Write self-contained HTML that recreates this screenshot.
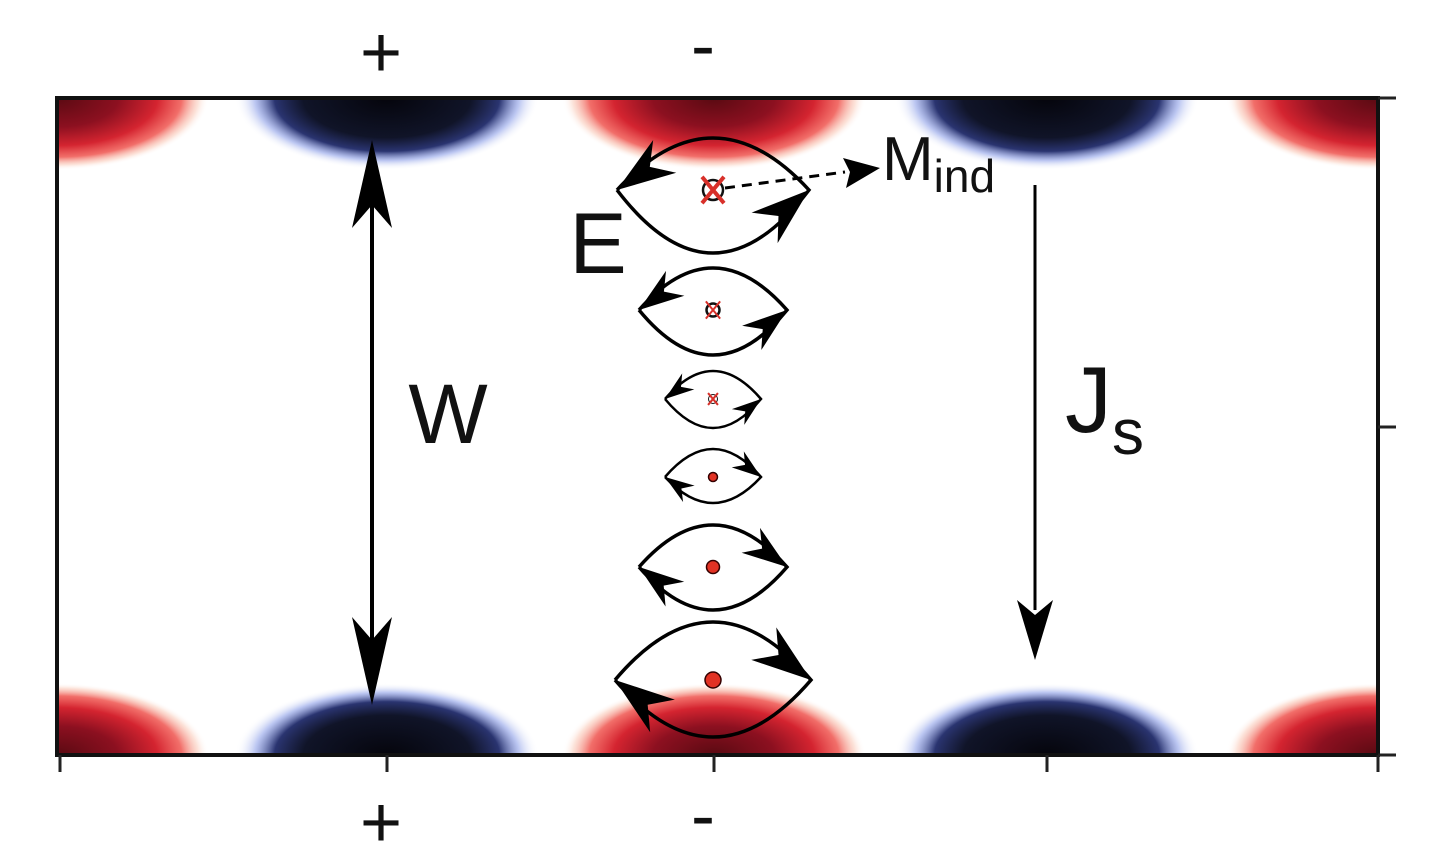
<!DOCTYPE html>
<html><head><meta charset="utf-8"><style>
html,body{margin:0;padding:0;background:#fff;}
svg{display:block;font-family:"Liberation Sans","DejaVu Sans",sans-serif;}
</style></head><body>
<svg width="1444" height="868" viewBox="0 0 1444 868">
<defs>
<radialGradient id="gRed" cx="0.5" cy="0.5" r="0.5">
<stop offset="0" stop-color="#5a0a12"/><stop offset="0.4" stop-color="#8c1020"/><stop offset="0.66" stop-color="#d42430"/><stop offset="0.82" stop-color="#ee4a44" stop-opacity="0.8"/><stop offset="0.93" stop-color="#f8b8a0" stop-opacity="0.4"/><stop offset="1" stop-color="#fff" stop-opacity="0"/>
</radialGradient>
<radialGradient id="gBlue" cx="0.5" cy="0.5" r="0.5">
<stop offset="0" stop-color="#05050c"/><stop offset="0.55" stop-color="#101428"/><stop offset="0.74" stop-color="#2a3470"/><stop offset="0.87" stop-color="#8ea0e8" stop-opacity="0.6"/><stop offset="1" stop-color="#fff" stop-opacity="0"/>
</radialGradient>
<clipPath id="frame"><rect x="57" y="98" width="1321" height="657"/></clipPath>
</defs>
<g id="blobs" clip-path="url(#frame)"></g>
<rect x="57" y="98" width="1321" height="657" fill="none" stroke="#111" stroke-width="4"/>
<g id="ticks" stroke="#222" stroke-width="3"></g>

<g font-size="72" text-anchor="middle" fill="#111">
<text x="381" y="77">+</text>
<text x="703" y="70">-</text>
<text x="381" y="847">+</text>
<text x="703" y="840">-</text>
</g>

<g>
<line x1="372" y1="200" x2="372" y2="650" stroke="#000" stroke-width="4"/>
<polygon points="372,140 352,228 372,205 392,228" fill="#000"/>
<polygon points="372,705 352,617 372,640 392,617" fill="#000"/>
</g>
<text x="448" y="443" font-size="84" text-anchor="middle" fill="#111">W</text>
<text x="598" y="273" font-size="86" text-anchor="middle" fill="#111">E</text>

<g>
<line x1="1035" y1="185" x2="1035" y2="610" stroke="#000" stroke-width="3"/>
<polygon points="1035,660 1017,600 1035,615 1053,600" fill="#000"/>
</g>
<text x="1065" y="432" font-size="94" fill="#111">J<tspan font-size="64" dy="22">s</tspan></text>

<g>
<line x1="725" y1="188" x2="845" y2="172" stroke="#000" stroke-width="3" stroke-dasharray="10,7"/>
<polygon points="880,168 843,158 850,172 846,188" fill="#000"/>
</g>
<text x="882" y="180" font-size="62" fill="#111">M<tspan font-size="46" dy="12">ind</tspan></text>

<g id="loops"></g>
</svg>
<script>
const blobTypes=["red","blue","red","blue","red"];
const blobCenters=[57,387,714,1047,1378];
const tickXs=[60,387,714,1047,1378];
const tickYs=[98,427,755];
const loopY=[190,310,399,477,567,680];
const loopHalfW=[96,74,48,48,74,98];
const loopUp=[52,42,28,28,42,58];
const loopDown=[63,45,29,26,43,57];
const loopSign=[1,1,1,-1,-1,-1];
const loopSym=[16,9,5,5,9,12];
const NS="http://www.w3.org/2000/svg";
function mk(t,a,p){const e=document.createElementNS(NS,t);for(const k in a)e.setAttribute(k,a[k]);p.appendChild(e);return e;}
const blobs=document.getElementById('blobs');
blobTypes.forEach((t,i)=>{
 const cx=blobCenters[i];
 const g=t==="red"?"url(#gRed)":"url(#gBlue)";
 const a=mk('ellipse',{cx:cx,cy:98,rx:152,ry:72,fill:g},blobs);
 
 
 const b=mk('ellipse',{cx:cx,cy:755,rx:152,ry:72,fill:g},blobs);
 
 
});
const tk=document.getElementById('ticks');
tickXs.forEach(x=>{const l=mk('line',{x1:x,y1:755,x2:x,y2:772},tk);
 
 });
tickYs.forEach(y=>{const l=mk('line',{x1:1378,y1:y,x2:1396,y2:y},tk);
 
 });
const lp=document.getElementById('loops');
function head(p,tip,dir,s){const nx=-dir[1],ny=dir[0];
 const b={x:tip.x-dir[0]*s*1.6,y:tip.y-dir[1]*s*1.6};const m={x:tip.x-dir[0]*s*1.1,y:tip.y-dir[1]*s*1.1};
 mk('polygon',{points:`${tip.x},${tip.y} ${b.x+nx*s*0.55},${b.y+ny*s*0.55} ${m.x},${m.y} ${b.x-nx*s*0.55},${b.y-ny*s*0.55}`,fill:'#000'},p);}
loopY.forEach((cy,i)=>{
 const cx=713,hw=loopHalfW[i],up=loopUp[i],dn=loopDown[i];
 const g=mk('g',{},lp);
 
 
 const L={x:cx-hw,y:cy},R={x:cx+hw,y:cy};
 const sw=i===2||i===3?2.5:3.5;
 mk('path',{d:`M${L.x},${L.y} Q${cx},${cy-2*up} ${R.x},${R.y} Q${cx},${cy+2*dn} ${L.x},${L.y}`,fill:'none',stroke:'#000','stroke-width':sw},g);
 const s=hw*0.38;
 const norm=(x,y)=>{const n=Math.hypot(x,y);return [x/n,y/n];};
 if(loopSign[i]>0){
  head(g,{x:L.x,y:L.y},norm(-hw,up*1.3),s);
  head(g,{x:R.x,y:R.y},norm(hw,-dn*1.3),s);
 } else {
  head(g,{x:R.x,y:R.y},norm(hw,up*1.3),s);
  head(g,{x:L.x,y:L.y},norm(-hw,-dn*1.3),s);
 }
 const r=loopSym[i]/2+2;
 if(i<3){
  mk('circle',{cx:cx,cy:cy,r:r,fill:'none',stroke:'#111','stroke-width':i===2?1:2.5},g);
  const d=r*1.1;
  mk('path',{d:`M${cx-d},${cy-d*1.2} L${cx+d},${cy+d*1.2} M${cx+d},${cy-d*1.2} L${cx-d},${cy+d*1.2}`,stroke:'#d8302a','stroke-width':i===0?4:2,fill:'none'},g);
 } else {
  mk('circle',{cx:cx,cy:cy,r:r,fill:'#e23224',stroke:'#300','stroke-width':1.5},g);
 }
});
</script>
</body></html>
